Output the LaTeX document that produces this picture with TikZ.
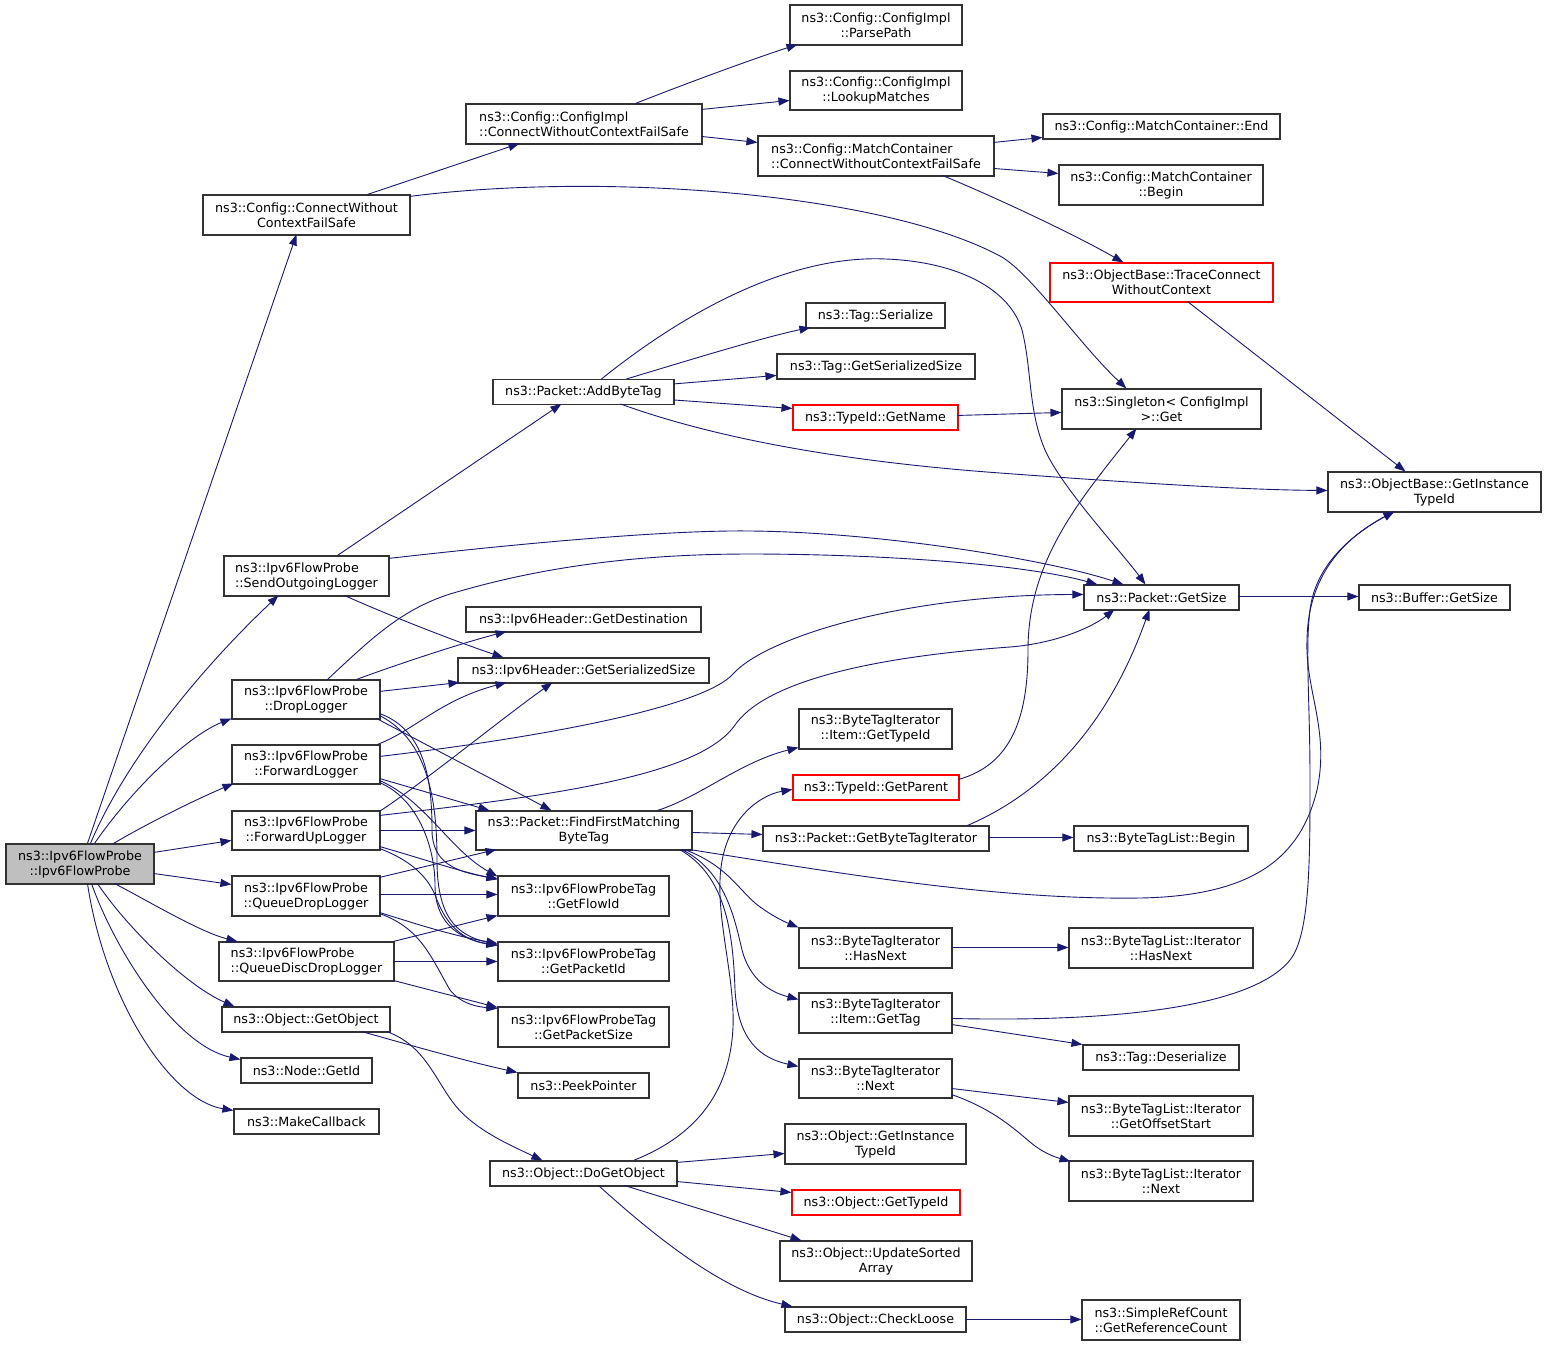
\documentclass[tikz,border=0pt]{standalone}
\usepackage{fontspec}
\setmainfont{DejaVu Sans}
\usetikzlibrary{arrows.meta}
\definecolor{edgec}{HTML}{191970}
\definecolor{nodeb}{HTML}{333333}
\definecolor{rootf}{HTML}{BFBFBF}
\tikzset{
 box/.style={rectangle, draw=nodeb, line width=1.1pt, fill=white, inner sep=0pt, align=center, font=\fontsize{12.7}{15}\selectfont, text=black},
 redbox/.style={box, draw=red},
 bx/.style n args={2}{minimum width=#1pt, minimum height=#2pt},
 conn/.style={draw=edgec, line width=0.9pt, -{Triangle[length=11pt,width=8pt]}},
}
\begin{document}
\begin{tikzpicture}[x=1pt,y=-1pt]
\useasboundingbox (0,0) rectangle (1547,1345);
% nodes
\node[box,fill=rootf,bx={148}{40}] (r) at (80,864) {ns3::Ipv6FlowProbe\\::Ipv6FlowProbe};
\node[box,bx={207}{40}] (cwcfs) at (306.5,215) {ns3::Config::ConnectWithout\\ContextFailSafe};
\node[box,align=left,bx={236}{40}] (cicw) at (584,124) {ns3::Config::ConfigImpl\\::ConnectWithoutContextFailSafe};
\node[box,bx={172}{40}] (parse) at (876,25) {ns3::Config::ConfigImpl\\::ParsePath};
\node[box,bx={172}{39}] (lookup) at (876,90.5) {ns3::Config::ConfigImpl\\::LookupMatches};
\node[box,align=left,bx={236}{40}] (mccw) at (876,156) {ns3::Config::MatchContainer\\::ConnectWithoutContextFailSafe};
\node[box,bx={237}{25}] (mcend) at (1161.5,126.5) {ns3::Config::MatchContainer::End};
\node[box,bx={204}{40}] (mcbegin) at (1161,185) {ns3::Config::MatchContainer\\::Begin};
\node[redbox,bx={223}{39}] (trace) at (1161.5,282.5) {ns3::ObjectBase::TraceConnect\\WithoutContext};
\node[box,bx={199}{40}] (sing) at (1161.5,409) {ns3::Singleton< ConfigImpl\\>::Get};
\node[box,bx={213}{40}] (obgit) at (1434.5,492) {ns3::ObjectBase::GetInstance\\TypeId};
\node[box,bx={139}{25}] (tagser) at (875.5,315.5) {ns3::Tag::Serialize};
\node[box,bx={198}{25}] (taggss) at (876,366.5) {ns3::Tag::GetSerializedSize};
\node[box,bx={181}{25}] (abt) at (583.5,392) {ns3::Packet::AddByteTag};
\node[redbox,bx={165}{25}] (getname) at (875.5,417.5) {ns3::TypeId::GetName};
\node[box,align=left,bx={165}{40}] (sol) at (306.5,576) {ns3::Ipv6FlowProbe\\::SendOutgoingLogger};
\node[box,bx={155}{25}] (gsize) at (1161.5,597.5) {ns3::Packet::GetSize};
\node[box,bx={151}{25}] (bufsize) at (1434.5,597.5) {ns3::Buffer::GetSize};
\node[box,bx={235}{25}] (gdest) at (583.5,619.5) {ns3::Ipv6Header::GetDestination};
\node[box,bx={251}{25}] (ssize) at (583.5,670.5) {ns3::Ipv6Header::GetSerializedSize};
\node[box,bx={148}{39}] (drop) at (306,699.5) {ns3::Ipv6FlowProbe\\::DropLogger};
\node[box,bx={153}{40}] (bgtype) at (875.5,729) {ns3::ByteTagIterator\\::Item::GetTypeId};
\node[box,bx={148}{39}] (fwd) at (306,764.5) {ns3::Ipv6FlowProbe\\::ForwardLogger};
\node[redbox,bx={166}{25}] (gparent) at (876,787.5) {ns3::TypeId::GetParent};
\node[box,bx={148}{39}] (fwdup) at (306,830.5) {ns3::Ipv6FlowProbe\\::ForwardUpLogger};
\node[box,bx={216}{39}] (ffm) at (584,830.5) {ns3::Packet::FindFirstMatching\\ByteTag};
\node[box,bx={226}{25}] (gbti) at (876,838.5) {ns3::Packet::GetByteTagIterator};
\node[box,bx={174}{25}] (btlbegin) at (1161,838.5) {ns3::ByteTagList::Begin};
\node[box,bx={148}{40}] (qdrop) at (306,896) {ns3::Ipv6FlowProbe\\::QueueDropLogger};
\node[box,bx={171}{40}] (flowid) at (583.5,896) {ns3::Ipv6FlowProbeTag\\::GetFlowId};
\node[box,bx={153}{40}] (bhasnext) at (875.5,948) {ns3::ByteTagIterator\\::HasNext};
\node[box,bx={184}{40}] (blhasnext) at (1161,948) {ns3::ByteTagList::Iterator\\::HasNext};
\node[box,align=left,bx={175}{39}] (qdisc) at (306.5,961.5) {ns3::Ipv6FlowProbe\\::QueueDiscDropLogger};
\node[box,bx={171}{39}] (pktid) at (583.5,961.5) {ns3::Ipv6FlowProbeTag\\::GetPacketId};
\node[box,bx={153}{40}] (bgettag) at (875.5,1013) {ns3::ByteTagIterator\\::Item::GetTag};
\node[box,bx={168}{25}] (getobj) at (306,1019.5) {ns3::Object::GetObject};
\node[box,bx={171}{40}] (pktsize) at (583.5,1027) {ns3::Ipv6FlowProbeTag\\::GetPacketSize};
\node[box,bx={156}{25}] (tagdes) at (1161,1057.5) {ns3::Tag::Deserialize};
\node[box,bx={131}{25}] (nodeid) at (306.5,1070.5) {ns3::Node::GetId};
\node[box,bx={153}{39}] (bnext) at (875.5,1078.5) {ns3::ByteTagIterator\\::Next};
\node[box,bx={131}{25}] (peek) at (583.5,1085.5) {ns3::PeekPointer};
\node[box,bx={184}{40}] (offstart) at (1161,1116) {ns3::ByteTagList::Iterator\\::GetOffsetStart};
\node[box,bx={145}{25}] (mkcb) at (306.5,1121.5) {ns3::MakeCallback};
\node[box,bx={181}{40}] (ogit) at (875.5,1144) {ns3::Object::GetInstance\\TypeId};
\node[box,bx={187}{25}] (dgo) at (583.5,1173.5) {ns3::Object::DoGetObject};
\node[box,bx={184}{40}] (blnext) at (1161,1181) {ns3::ByteTagList::Iterator\\::Next};
\node[redbox,bx={168}{25}] (ogtid) at (876,1202.5) {ns3::Object::GetTypeId};
\node[box,bx={192}{40}] (usa) at (876,1261) {ns3::Object::UpdateSorted\\Array};
\node[box,bx={181}{25}] (chk) at (875.5,1319.5) {ns3::Object::CheckLoose};
\node[box,bx={158}{40}] (refcnt) at (1161,1320) {ns3::SimpleRefCount\\::GetReferenceCount};
% edges from root
\draw[conn] ([shift={(82,0)}]r.north west) -- ([shift={(94,40)}]cwcfs.north west);
\draw[conn] ([shift={(85,0)}]r.north west) .. controls (130,750) and (215,655) .. ([shift={(55,40)}]sol.north west);
\draw[conn] ([shift={(89,0)}]r.north west) .. controls (135,785) and (190,735) .. ([shift={(0,39)}]drop.north west);
\draw[conn] ([shift={(108,0)}]r.north west) .. controls (150,822) and (195,800) .. ([shift={(2,39)}]fwd.north west);
\draw[conn] ([shift={(148,9)}]r.north west) -- ([shift={(0,30)}]fwdup.north west);
\draw[conn] ([shift={(148,30)}]r.north west) -- ([shift={(0,9)}]qdrop.north west);
\draw[conn] ([shift={(109,40)}]r.north west) .. controls (150,902) and (200,932) .. ([shift={(19,0)}]qdisc.north west);
\draw[conn] ([shift={(92,40)}]r.north west) .. controls (125,925) and (185,985) .. ([shift={(13,0)}]getobj.north west);
\draw[conn] ([shift={(86,40)}]r.north west) .. controls (115,950) and (175,1045) .. ([shift={(0,2)}]nodeid.north west);
\draw[conn] ([shift={(82,40)}]r.north west) .. controls (105,1000) and (170,1100) .. ([shift={(0,2)}]mkcb.north west);
% config chain
\draw[conn] ([shift={(165,0)}]cwcfs.north west) -- ([shift={(54,40)}]cicw.north west);
\draw[conn] ([shift={(207,2)}]cwcfs.north west) .. controls (600,172) and (880,192) .. (1000,256) .. controls (1030,272) and (1080,345) .. ([shift={(65,0)}]sing.north west);
\draw[conn] ([shift={(170,0)}]cicw.north west) .. controls (690,82) and (750,60) .. ([shift={(8,40)}]parse.north west);
\draw[conn] ([shift={(236,6)}]cicw.north west) -- ([shift={(0,30)}]lookup.north west);
\draw[conn] ([shift={(236,33)}]cicw.north west) -- ([shift={(0,7)}]mccw.north west);
\draw[conn] ([shift={(236,7)}]mccw.north west) -- ([shift={(0,24)}]mcend.north west);
\draw[conn] ([shift={(236,33)}]mccw.north west) -- ([shift={(0,9)}]mcbegin.north west);
\draw[conn] ([shift={(185,40)}]mccw.north west) .. controls (990,195) and (1070,232) .. ([shift={(74,0)}]trace.north west);
\draw[conn] ([shift={(138,39)}]trace.north west) -- ([shift={(78,0)}]obgit.north west);
% AddByteTag
\draw[conn] ([shift={(134,0)}]abt.north west) .. controls (670,366) and (760,338) .. ([shift={(5,25)}]tagser.north west);
\draw[conn] ([shift={(181,5)}]abt.north west) -- ([shift={(0,22)}]taggss.north west);
\draw[conn] ([shift={(181,21)}]abt.north west) -- ([shift={(0,4)}]getname.north west);
\draw[conn] ([shift={(109,0)}]abt.north west) .. controls (700,300) and (800,255) .. (886,259) .. controls (960,262) and (1010,290) .. (1022,330) .. controls (1032,370) and (1028,410) .. (1045,450) .. controls (1062,488) and (1120,550) .. ([shift={(62,0)}]gsize.north west);
\draw[conn] ([shift={(128,25)}]abt.north west) .. controls (720,440) and (850,462) .. (1000,473) .. controls (1150,484) and (1250,490) .. ([shift={(0,19)}]obgit.north west);
\draw[conn] ([shift={(165,11)}]getname.north west) -- ([shift={(0,24)}]sing.north west);
% SendOutgoingLogger
\draw[conn] ([shift={(114,0)}]sol.north west) -- ([shift={(69,25)}]abt.north west);
\draw[conn] ([shift={(165,3)}]sol.north west) .. controls (550,540) and (680,530) .. (750,531) .. controls (880,532) and (1050,560) .. ([shift={(40,0)}]gsize.north west);
\draw[conn] ([shift={(121,40)}]sol.north west) .. controls (390,616) and (460,643) .. ([shift={(46,0)}]ssize.north west);
% DropLogger
\draw[conn] ([shift={(125,0)}]drop.north west) .. controls (390,667) and (455,645) .. ([shift={(41,25)}]gdest.north west);
\draw[conn] ([shift={(148,12)}]drop.north west) -- ([shift={(2,25)}]ssize.north west);
\draw[conn] ([shift={(96,0)}]drop.north west) .. controls (370,640) and (400,610) .. (450,594) .. controls (550,564) and (650,554) .. (750,554) .. controls (870,554) and (1020,563) .. ([shift={(14,0)}]gsize.north west);
\draw[conn] ([shift={(145,39)}]drop.north west) -- ([shift={(76,0)}]ffm.north west);
\draw[conn] ([shift={(148,34)}]drop.north west) .. controls (425,730) and (432,780) .. (432,830) .. controls (432,862) and (455,872) .. ([shift={(0,3)}]flowid.north west);
\draw[conn] ([shift={(148,36)}]drop.north west) .. controls (428,740) and (437,800) .. (437,860) .. controls (437,915) and (455,935) .. ([shift={(0,3)}]pktid.north west);
% ForwardLogger
\draw[conn] ([shift={(146,0)}]fwd.north west) .. controls (415,730) and (440,700) .. ([shift={(49,25)}]ssize.north west);
\draw[conn] ([shift={(148,12)}]fwd.north west) .. controls (520,740) and (700,710) .. (733,674) .. controls (765,638) and (900,595) .. ([shift={(0,10)}]gsize.north west);
\draw[conn] ([shift={(148,34)}]fwd.north west) -- ([shift={(14,0)}]ffm.north west);
\draw[conn] ([shift={(148,36)}]fwd.north west) .. controls (425,800) and (450,850) .. ([shift={(0,1)}]flowid.north west);
\draw[conn] ([shift={(148,38)}]fwd.north west) .. controls (420,800) and (435,850) .. (435,885) .. controls (435,920) and (455,938) .. ([shift={(0,4)}]pktid.north west);
% ForwardUpLogger
\draw[conn] ([shift={(148,1)}]fwdup.north west) .. controls (420,785) and (500,720) .. ([shift={(95,25)}]ssize.north west);
\draw[conn] ([shift={(148,5)}]fwdup.north west) .. controls (560,795) and (700,775) .. (735,725) .. controls (770,675) and (900,655) .. (1010,647) .. controls (1060,643) and (1095,625) .. ([shift={(31,25)}]gsize.north west);
\draw[conn] ([shift={(148,20)}]fwdup.north west) -- ([shift={(0,20)}]ffm.north west);
\draw[conn] ([shift={(148,36)}]fwdup.north west) .. controls (420,858) and (455,870) .. ([shift={(0,4)}]flowid.north west);
\draw[conn] ([shift={(148,38)}]fwdup.north west) .. controls (415,862) and (430,880) .. (437,900) .. controls (447,925) and (462,940) .. ([shift={(0,4)}]pktid.north west);
% QueueDropLogger
\draw[conn] ([shift={(148,2)}]qdrop.north west) -- ([shift={(21,39)}]ffm.north west);
\draw[conn] ([shift={(148,19)}]qdrop.north west) -- ([shift={(0,19)}]flowid.north west);
\draw[conn] ([shift={(148,37)}]qdrop.north west) .. controls (420,925) and (450,935) .. ([shift={(0,2)}]pktid.north west);
\draw[conn] ([shift={(148,38)}]qdrop.north west) .. controls (420,928) and (430,955) .. (450,990) .. controls (462,1005) and (480,1007) .. ([shift={(0,2)}]pktsize.north west);
% QueueDiscDropLogger
\draw[conn] ([shift={(175,0)}]qdisc.north west) -- ([shift={(0,40)}]flowid.north west);
\draw[conn] ([shift={(175,20)}]qdisc.north west) -- ([shift={(0,20)}]pktid.north west);
\draw[conn] ([shift={(175,39)}]qdisc.north west) -- ([shift={(0,1)}]pktsize.north west);
% FindFirstMatchingByteTag
\draw[conn] ([shift={(182,0)}]ffm.north west) .. controls (700,797) and (740,762) .. ([shift={(0,39)}]bgtype.north west);
\draw[conn] ([shift={(216,22)}]ffm.north west) -- ([shift={(0,9)}]gbti.north west);
\draw[conn] ([shift={(214,39)}]ffm.north west) .. controls (850,875) and (1000,900) .. (1140,898) .. controls (1250,896) and (1300,860) .. (1317,790) .. controls (1330,730) and (1305,690) .. (1307,640) .. controls (1308,570) and (1350,535) .. ([shift={(67,40)}]obgit.north west);
\draw[conn] ([shift={(209,39)}]ffm.north west) .. controls (725,865) and (735,885) .. (755,903) .. controls (770,915) and (785,922) .. ([shift={(0,0)}]bhasnext.north west);
\draw[conn] ([shift={(206,39)}]ffm.north west) .. controls (725,870) and (735,920) .. (742,950) .. controls (750,980) and (770,992) .. ([shift={(0,7)}]bgettag.north west);
\draw[conn] ([shift={(204,39)}]ffm.north west) .. controls (725,875) and (733,930) .. (735,990) .. controls (738,1040) and (760,1058) .. ([shift={(0,8)}]bnext.north west);
% GetByteTagIterator etc.
\draw[conn] ([shift={(226,12)}]gbti.north west) -- ([shift={(0,12)}]btlbegin.north west);
\draw[conn] ([shift={(205,0)}]gbti.north west) .. controls (1050,790) and (1110,720) .. ([shift={(66,25)}]gsize.north west);
\draw[conn] ([shift={(166,5)}]gparent.north west) .. controls (1010,765) and (1028,720) .. (1028,650) .. controls (1028,560) and (1080,500) .. ([shift={(75,40)}]sing.north west);
\draw[conn] ([shift={(155,12)}]gsize.north west) -- ([shift={(0,12)}]bufsize.north west);
\draw[conn] ([shift={(153,20)}]bhasnext.north west) -- ([shift={(0,20)}]blhasnext.north west);
\draw[conn] ([shift={(153,32)}]bgettag.north west) -- ([shift={(0,0)}]tagdes.north west);
\draw[conn] ([shift={(153,26)}]bgettag.north west) .. controls (1100,1022) and (1250,1010) .. (1290,960) .. controls (1310,935) and (1310,860) .. (1310,780) .. controls (1310,700) and (1305,650) .. (1310,610) .. controls (1316,560) and (1360,530) .. ([shift={(67,40)}]obgit.north west);
\draw[conn] ([shift={(153,30)}]bnext.north west) -- ([shift={(0,7)}]offstart.north west);
\draw[conn] ([shift={(153,36)}]bnext.north west) .. controls (990,1108) and (1010,1125) .. (1030,1142) .. controls (1043,1153) and (1055,1157) .. ([shift={(2,1)}]blnext.north west);
% GetObject / DoGetObject
\draw[conn] ([shift={(140,25)}]getobj.north west) .. controls (420,1048) and (470,1062) .. ([shift={(0,0)}]peek.north west);
\draw[conn] ([shift={(165,25)}]getobj.north west) .. controls (425,1045) and (435,1080) .. (455,1105) .. controls (475,1130) and (510,1145) .. ([shift={(53,0)}]dgo.north west);
\draw[conn] ([shift={(187,2)}]dgo.north west) -- ([shift={(0,30)}]ogit.north west);
\draw[conn] ([shift={(187,21)}]dgo.north west) -- ([shift={(0,3)}]ogtid.north west);
\draw[conn] ([shift={(135,25)}]dgo.north west) -- ([shift={(22,0)}]usa.north west);
\draw[conn] ([shift={(109,25)}]dgo.north west) .. controls (650,1232) and (720,1290) .. ([shift={(8,0)}]chk.north west);
\draw[conn] ([shift={(144,0)}]dgo.north west) .. controls (690,1138) and (725,1100) .. (732,1040) .. controls (738,990) and (718,930) .. (720,880) .. controls (722,820) and (760,795) .. ([shift={(0,15)}]gparent.north west);
\draw[conn] ([shift={(181,13)}]chk.north west) -- ([shift={(0,20)}]refcnt.north west);
\end{tikzpicture}
\end{document}
